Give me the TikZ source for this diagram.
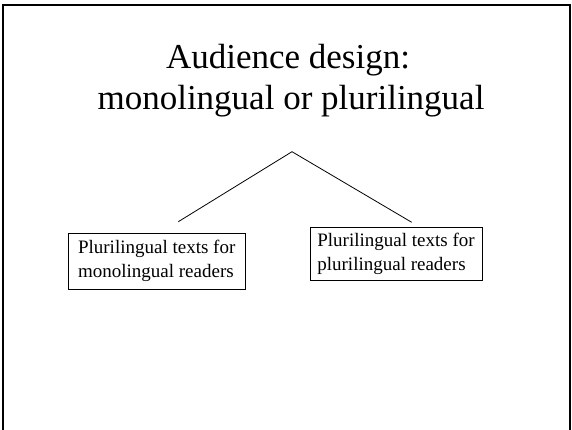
\documentclass[tikz,border=0pt]{standalone}
\usepackage{fontspec}
\setmainfont{Liberation Serif}
\begin{document}
\begin{tikzpicture}[x=1pt,y=-1pt,
  titlestyle/.style={anchor=base,inner sep=0pt,font=\fontsize{35}{41}\selectfont},
  leafbox/.style={draw,line width=0.9pt,align=left,inner sep=0pt,font=\fontsize{19}{24}\selectfont},
  branch/.style={line width=0.8pt}]
\useasboundingbox (0,0) rectangle (572,430);
% slide frame
\draw[line width=2pt] (2.5,432) -- (2.5,4.8) -- (570,4.8) -- (570,432);
% title
\node[titlestyle] (t1) at (288,69) {Audience design:};
\node[titlestyle] (t2) at (291,110) {monolingual or plurilingual};
% tree
\coordinate (apex) at (292,151.7);
\coordinate (lend) at (178.3,221.7);
\coordinate (rend) at (411.7,222.3);
\draw[branch] (lend) -- (apex) -- (rend);
% leaves
\node[leafbox,minimum width=176.7pt,minimum height=56pt] (left) at (156.7,261.3)
  {Plurilingual texts for\\monolingual readers};
\node[leafbox,minimum width=172pt,minimum height=53pt] (right) at (396,253.5)
  {Plurilingual texts for\\plurilingual readers};
\end{tikzpicture}
\end{document}
